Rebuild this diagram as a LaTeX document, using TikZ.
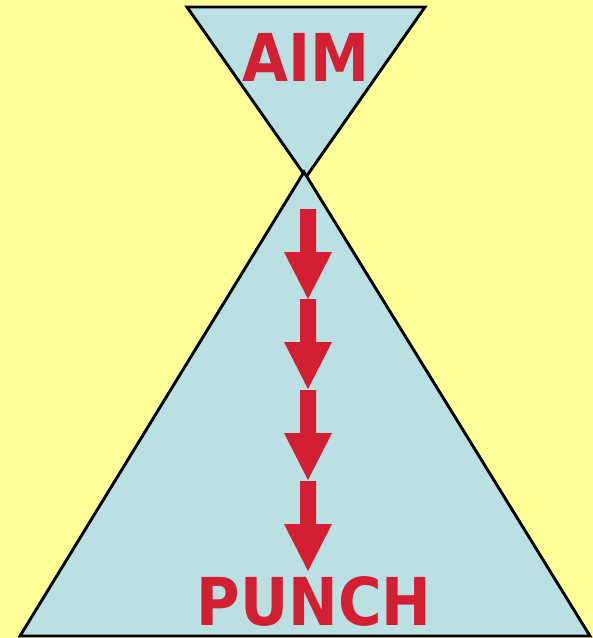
\documentclass[tikz,border=0pt]{standalone}
\usepackage{fontspec}
\usepackage{tikz}
\newfontfamily\labelfont{DejaVu Sans Condensed}[BoldFont={* Bold}]
\definecolor{bgyellow}{HTML}{FFFF99}
\definecolor{coneblue}{HTML}{BAE0E4}
\definecolor{arrowred}{HTML}{D21F32}
\tikzset{
  cone/.style={draw=black,line width=2.9pt,fill=coneblue,line join=miter},
  downarrow/.style={fill=arrowred},
  bigword/.style={text=arrowred,inner sep=0pt,font=\labelfont\bfseries\fontsize{66}{66}\selectfont}
}

\begin{document}
\begin{tikzpicture}[x=1pt,y=-1pt]

      \fill [bgyellow] (0,0) rectangle (593,638);
      \useasboundingbox (0,0) rectangle (593,638);

      % top cone
      \draw [cone] (187,7) -- (425,7) -- (306,177) -- cycle;
      \node [bigword] (aim) at (306,57) {AIM};

      % bottom cone
      \draw [cone] (304,172) -- (590,636) -- (20,636) -- cycle;
      \node [bigword] (punch) at (314,601) {PUNCH};

      % arrows
      \fill [downarrow] (300,209) -- ++(16,0) -- ++(0,43) -- ++(16,0) -- ++(-24,47) -- ++(-24,-47) -- ++(16,0) -- cycle;
      \fill [downarrow] (300,299) -- ++(16,0) -- ++(0,43) -- ++(16,0) -- ++(-24,47) -- ++(-24,-47) -- ++(16,0) -- cycle;
      \fill [downarrow] (300,390) -- ++(16,0) -- ++(0,43) -- ++(16,0) -- ++(-24,47) -- ++(-24,-47) -- ++(16,0) -- cycle;
      \fill [downarrow] (300,481) -- ++(16,0) -- ++(0,43) -- ++(16,0) -- ++(-24,47) -- ++(-24,-47) -- ++(16,0) -- cycle;

\end{tikzpicture}
\end{document}
